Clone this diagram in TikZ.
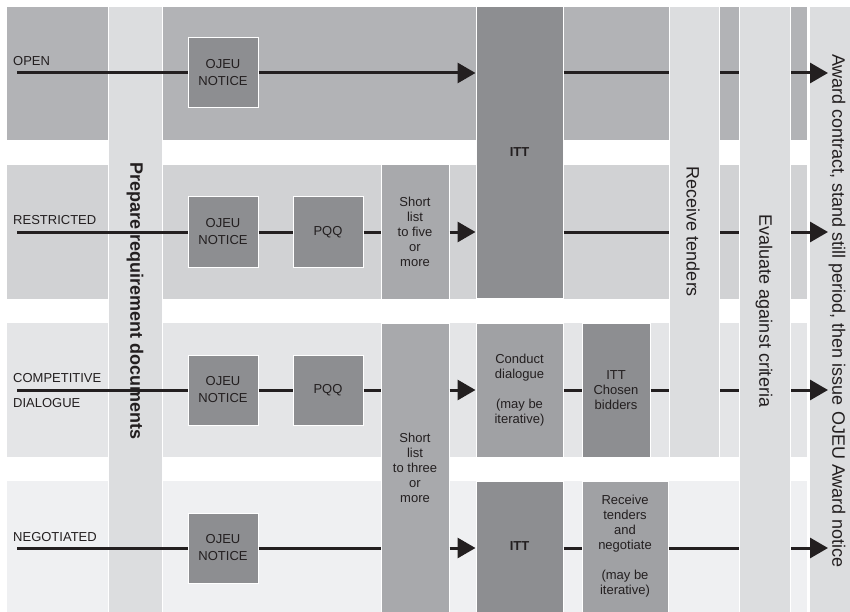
\documentclass[tikz,border=0pt]{standalone}
\usepackage{fontspec}
\setmainfont{Liberation Sans}
\usepackage{xcolor}
\usetikzlibrary{arrows.meta,positioning}
\definecolor{rowone}{HTML}{B2B3B6}
\definecolor{rowtwo}{HTML}{D1D2D4}
\definecolor{rowthree}{HTML}{E4E5E7}
\definecolor{rowfour}{HTML}{EFF0F2}
\definecolor{colgray}{HTML}{DCDDDF}
\definecolor{boxdark}{HTML}{8D8E91}
\definecolor{boxmid}{HTML}{A8A9AC}
\definecolor{boxsoft}{HTML}{A0A1A4}
\definecolor{inkdark}{HTML}{231F20}
\tikzset{
  lanebox/.style={draw=white,line width=1pt,fill=boxdark,text=inkdark,inner sep=0pt,align=center,font=\fontsize{13}{15}\selectfont},
  sqbox/.style={lanebox,minimum width=70,minimum height=70},
  barcol/.style={draw=white,line width=1pt,fill=colgray,inner sep=0pt},
  bartext/.style={rotate=-90,inner sep=0pt,text=inkdark,font=\fontsize{18}{20}\selectfont},
  lanelabel/.style={anchor=base west,inner sep=0pt,text=inkdark,font=\fontsize{13}{15}\selectfont},
  flowline/.style={draw=inkdark,line width=3pt},
  flowarrow/.style={flowline,-{Triangle[length=18pt,width=20pt]}},
}
\begin{document}
\begin{tikzpicture}[x=1pt,y=-1pt]
  \useasboundingbox (0,0) rectangle (850,612);
  % lanes
  \fill[rowone] (7,7) rectangle (807,140);
  \fill[rowtwo] (7,165) rectangle (807,299);
  \fill[rowthree] (7,323) rectangle (807,457);
  \fill[rowfour] (7,481) rectangle (807,612);
  \node[lanelabel] (lopen) at (13,66) {OPEN};
  \node[lanelabel] (lrestricted) at (13,224) {RESTRICTED};
  \node[lanelabel] (lcompetitive) at (13,382) {COMPETITIVE};
  \node[lanelabel] (ldialogue) at (13,407) {DIALOGUE};
  \node[lanelabel] (lnegotiated) at (13,541) {NEGOTIATED};
  \foreach \lane/\y in {A/73,B/232,C/390,D/548}{
    \coordinate (start\lane) at (17,\y);
    \coordinate (end\lane) at (828,\y);
  }

  % full height bars
  \node[barcol,minimum width=54,minimum height=605] (prepcol) at (135,309.5) {};
  \node[bartext,font=\bfseries\fontsize{18}{20}\selectfont] (preptext) at (135,301) {Prepare requirement documents};
  \node[barcol,minimum width=41,minimum height=605] (awardcol) at (829.5,309.5) {};
  \node[bartext] (awardtext) at (837,311) {Award contract, stand still period, then issue OJEU Award notice};

  % open
  \node[sqbox] (ojeuA) at (223,73) {OJEU\\[2pt]NOTICE};
  \node[lanebox,minimum width=87,minimum height=291] (ittA) at (519.5,152.5) {\textbf{ITT}};
  % restricted
  \node[sqbox] (ojeuB) at (223,232) {OJEU\\[2pt]NOTICE};
  \node[sqbox] (pqqB) at (328,232) {PQQ};
  \node[lanebox,fill=boxmid,minimum width=68,minimum height=134] (shortB) at (415,232) {Short\\list\\to five\\or\\more};
  % competitive dialogue
  \node[sqbox] (ojeuC) at (223,390) {OJEU\\[2pt]NOTICE};
  \node[sqbox] (pqqC) at (328,390) {PQQ};
  \node[lanebox,fill=boxmid,minimum width=68,minimum height=289] (shortC) at (415,467.5) {Short\\list\\to three\\or\\more};
  \node[lanebox,fill=boxsoft,minimum width=87,minimum height=134] (dialogue) at (519.5,390) {Conduct\\dialogue\\[15pt](may be\\iterative)};
  \node[lanebox,minimum width=68,minimum height=134] (ittC) at (616,390) {ITT\\Chosen\\bidders};
  % negotiated
  \node[sqbox] (ojeuD) at (223,548) {OJEU\\[2pt]NOTICE};
  \node[lanebox,minimum width=87,minimum height=131] (ittD) at (519.5,546.5) {\textbf{ITT}};
  \node[lanebox,fill=boxsoft,minimum width=86,minimum height=131] (negotiate) at (625,546.5) {Receive\\tenders\\and\\negotiate\\[15pt](may be\\iterative)};

  % flows
  \draw[flowline] (startA) -- (ojeuA);
  \draw[flowarrow] (ojeuA) -- (ojeuA -| ittA.west);
  \draw[flowarrow] (ittA.east |- ojeuA) -- (endA);
  \draw[flowline] (startB) -- (ojeuB);
  \draw[flowline] (ojeuB) -- (pqqB);
  \draw[flowline] (pqqB) -- (shortB);
  \draw[flowarrow] (shortB) -- (shortB -| ittA.west);
  \draw[flowarrow] (ittA.east |- shortB) -- (endB);
  \draw[flowline] (startC) -- (ojeuC);
  \draw[flowline] (ojeuC) -- (pqqC);
  \draw[flowline] (pqqC) -- (pqqC -| shortC.west);
  \draw[flowarrow] (shortC.east |- pqqC) -- (dialogue);
  \draw[flowline] (dialogue) -- (ittC);
  \draw[flowarrow] (ittC) -- (endC);
  \draw[flowline] (startD) -- (ojeuD);
  \draw[flowline] (ojeuD) -- (ojeuD -| shortC.west);
  \draw[flowarrow] (shortC.east |- ojeuD) -- (ojeuD -| ittD.west);
  \draw[flowline] (ittD.east |- ojeuD) -- (ojeuD -| negotiate.west);
  \draw[flowarrow] (negotiate.east |- ojeuD) -- (endD);

  % bars over the flows
  \node[barcol,minimum width=50,minimum height=450] (recvcol) at (694,232) {};
  \node[bartext] (recvtext) at (693,232) {Receive tenders};
  \node[barcol,minimum width=51,minimum height=605] (evalcol) at (764.5,309.5) {};
  \node[bartext] (evaltext) at (764,311) {Evaluate against criteria};
\end{tikzpicture}
\end{document}
